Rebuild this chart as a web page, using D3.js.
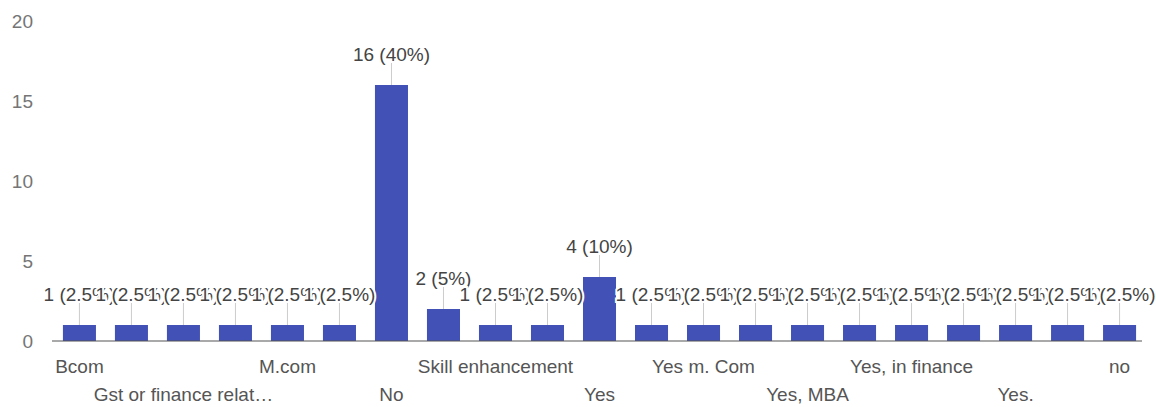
<!DOCTYPE html>
<html>
<head>
<meta charset="utf-8">
<script src="https://cdn.jsdelivr.net/npm/d3@7"></script>
<style>
  body { margin: 0; background: #fff; }
  text { font-family: "Liberation Sans", Arial, sans-serif; }
</style>
</head>
<body>
<svg id="chart"></svg>
<script>
// answers (labels every other bar are hidden by the chart, so those are guesses)
var categories = ["Bcom", "CA", "Gst or finance related courses", "Investment banking", "M.com",
  "MBA", "No", "Not yet", "Skill enhancement", "Stock market", "Yes", "Yes MBA", "Yes m. Com",
  "Yes, CA", "Yes, MBA", "Yes, banking", "Yes, in finance", "Yes, stock market", "Yes.",
  "Yes, M.com", "no"];
var counts = [1, 1, 1, 1, 1, 1, 16, 2, 1, 1, 4, 1, 1, 1, 1, 1, 1, 1, 1, 1, 1];
var yTicks = [0, 5, 10, 15, 20];

document.addEventListener("DOMContentLoaded", function() {
  drawBarChart();
});

function drawBarChart(){
  var svgWidth = 1156, svgHeight = 407;
  var margin = { top: 21, right: 9, bottom: 66, left: 52 };
  var width = svgWidth - margin.left - margin.right;
  var height = svgHeight - margin.top - margin.bottom;
  var total = d3.sum(counts);

  var svg = d3.select('#chart')
    .attr("width", svgWidth)
    .attr("height", svgHeight);

  var chart = svg.append('g')
    .attr('transform', `translate(${margin.left}, ${margin.top})`);

  var x = d3.scaleBand()
    .domain(categories)
    .range([0, width])
    .paddingInner(0.365)
    .paddingOuter(0.21);

  var y = d3.scaleLinear()
    .domain([0, 20])
    .range([height, 0]);

  // y axis labels, no line
  var yAxis = chart.append('g')
    .call(d3.axisLeft(y).tickValues(yTicks).tickSize(0).tickPadding(19));
  yAxis.select('.domain').remove();
  yAxis.selectAll('text')
    .attr('fill', '#757575')
    .style('font-size', '19px');

  // bars
  chart.selectAll('rect.bar')
    .data(counts)
    .enter()
    .append('rect')
    .attr('class', 'bar')
    .attr('x', (d, i) => x(categories[i]))
    .attr('y', d => y(d))
    .attr('width', x.bandwidth())
    .attr('height', d => height - y(d))
    .attr('fill', '#4151b6');

  // baseline
  chart.append('line')
    .attr('x1', 0).attr('x2', width - 5)
    .attr('y1', y(0)).attr('y2', y(0))
    .attr('stroke', '#555')
    .attr('stroke-width', 1.2);

  // x axis labels, every other one, two staggered rows
  var xAxis = chart.append('g')
    .attr('transform', `translate(0, ${height})`)
    .call(d3.axisBottom(x).tickSize(0)
      .tickFormat((d, i) => i % 2 == 0 ? (d.length > 20 ? d.slice(0, 20) + '…' : d) : ''));
  xAxis.select('.domain').remove();
  xAxis.selectAll('text')
    .attr('y', (d, i) => i % 4 == 0 ? 19 : 47)
    .attr('fill', '#555')
    .style('font-size', '19px');

  // annotation stems
  var cx = i => x(categories[i]) + x.bandwidth() / 2;
  chart.selectAll('line.stem')
    .data(counts)
    .enter()
    .append('line')
    .attr('class', 'stem')
    .attr('x1', (d, i) => cx(i)).attr('x2', (d, i) => cx(i))
    .attr('y1', d => y(d) - 22).attr('y2', d => y(d))
    .attr('stroke', '#ccc');

  // value labels with white halo, drawn in order so later ones cover earlier
  chart.selectAll('text.val')
    .data(counts)
    .enter()
    .append('text')
    .attr('class', 'val')
    .attr('x', (d, i) => cx(i))
    .attr('y', d => y(d) - 31)
    .attr('dy', '0.35em')
    .attr('text-anchor', 'middle')
    .attr('fill', '#444')
    .attr('stroke', '#fff')
    .attr('stroke-width', 4)
    .attr('paint-order', 'stroke')
    .style('font-size', '19px')
    .text(d => `${d} (${+(d / total * 100).toFixed(1)}%)`);
}
</script>
</body>
</html>
